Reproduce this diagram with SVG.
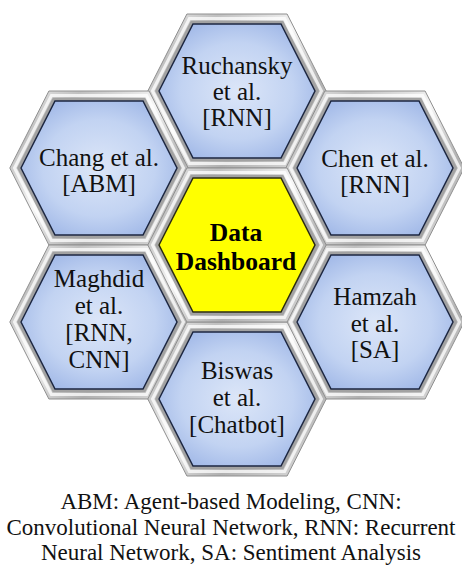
<svg xmlns="http://www.w3.org/2000/svg" xmlns:xlink="http://www.w3.org/1999/xlink" width="462" height="565" viewBox="0 0 462 565">
<style>
.frame{fill:url(#silver);stroke:#8f8f8f;stroke-width:1}
.hl{fill:none;stroke:#ffffff;stroke-width:3;stroke-opacity:0.75}
.bev{fill:none;stroke:#a2a2a2;stroke-width:3}
.blue{fill:url(#blueGrad);stroke:#1c2640;stroke-width:1.5}
.yellow{fill:#ffff00;stroke:#2a2a10;stroke-width:1.5}
.t{font-family:'Liberation Serif',serif;font-size:25px;fill:#111;text-anchor:middle}
.tb{font-family:'Liberation Serif',serif;font-size:25.5px;font-weight:bold;fill:#000;text-anchor:middle}
.cap{font-family:'Liberation Serif',serif;font-size:23px;fill:#111;text-anchor:middle}
</style>
<defs>
<linearGradient id="silver" x1="0" y1="0" x2="1" y2="1">
<stop offset="0" stop-color="#f2f2f2"/>
<stop offset="0.2" stop-color="#c0c0c0"/>
<stop offset="0.45" stop-color="#f7f7f7"/>
<stop offset="0.7" stop-color="#b0b0b0"/>
<stop offset="1" stop-color="#e4e4e4"/>
</linearGradient>
<radialGradient id="blueGrad" cx="0.5" cy="0.5" r="0.6">
<stop offset="0" stop-color="#dce6f8"/>
<stop offset="0.6" stop-color="#c2d3f2"/>
<stop offset="1" stop-color="#9db5e6"/>
</radialGradient>
<polygon id="hexOuter" points="-89.2,0 -50.1,-77 50.1,-77 89.2,0 50.1,77 -50.1,77"/>
<polygon id="hexMid" points="-84.5,0 -47.6,-72.5 47.6,-72.5 84.5,0 47.6,72.5 -47.6,72.5"/>
<polygon id="hexBev" points="-80.3,0 -45.3,-68.7 45.3,-68.7 80.3,0 45.3,68.7 -45.3,68.7"/>
<polygon id="hexInner" points="-78,0 -44,-67 44,-67 78,0 44,67 -44,67"/>
</defs>
<rect width="462" height="565" fill="#ffffff"/>

<g id="node-ruchansky" transform="translate(237,91)">
<use xlink:href="#hexOuter" class="frame"/><use xlink:href="#hexMid" class="hl"/><use xlink:href="#hexBev" class="bev"/><use xlink:href="#hexInner" class="blue"/>
<text class="t" x="0" y="-17">Ruchansky</text><text class="t" x="0" y="9">et al.</text><text class="t" x="0" y="35">[RNN]</text>
</g>
<g id="node-chang" transform="translate(99,168)">
<use xlink:href="#hexOuter" class="frame"/><use xlink:href="#hexMid" class="hl"/><use xlink:href="#hexBev" class="bev"/><use xlink:href="#hexInner" class="blue"/>
<text class="t" x="0" y="-2">Chang et al.</text><text class="t" x="0" y="24">[ABM]</text>
</g>
<g id="node-chen" transform="translate(375,168)">
<use xlink:href="#hexOuter" class="frame"/><use xlink:href="#hexMid" class="hl"/><use xlink:href="#hexBev" class="bev"/><use xlink:href="#hexInner" class="blue"/>
<text class="t" x="0" y="-1">Chen et al.</text><text class="t" x="0" y="25">[RNN]</text>
</g>
<g id="node-maghdid" transform="translate(99,322)">
<use xlink:href="#hexOuter" class="frame"/><use xlink:href="#hexMid" class="hl"/><use xlink:href="#hexBev" class="bev"/><use xlink:href="#hexInner" class="blue"/>
<text class="t" x="0" y="-35">Maghdid</text><text class="t" x="0" y="-8">et al.</text><text class="t" x="0" y="19">[RNN,</text><text class="t" x="0" y="46">CNN]</text>
</g>
<g id="node-hamzah" transform="translate(375,322)">
<use xlink:href="#hexOuter" class="frame"/><use xlink:href="#hexMid" class="hl"/><use xlink:href="#hexBev" class="bev"/><use xlink:href="#hexInner" class="blue"/>
<text class="t" x="0" y="-17">Hamzah</text><text class="t" x="0" y="10">et al.</text><text class="t" x="0" y="36">[SA]</text>
</g>
<g id="node-biswas" transform="translate(237,399)">
<use xlink:href="#hexOuter" class="frame"/><use xlink:href="#hexMid" class="hl"/><use xlink:href="#hexBev" class="bev"/><use xlink:href="#hexInner" class="blue"/>
<text class="t" x="0" y="-20">Biswas</text><text class="t" x="0" y="7">et al.</text><text class="t" x="0" y="34">[Chatbot]</text>
</g>
<g id="node-dashboard" transform="translate(237,245)">
<use xlink:href="#hexOuter" class="frame"/><use xlink:href="#hexMid" class="hl"/><use xlink:href="#hexBev" class="bev"/><use xlink:href="#hexInner" class="yellow"/>
<text class="tb" x="-1" y="-4">Data</text><text class="tb" x="-1" y="25">Dashboard</text>
</g>

<g id="caption">
<text class="cap" x="231" y="509">ABM: Agent-based Modeling, CNN:</text>
<text class="cap" x="231" y="535">Convolutional Neural Network, RNN: Recurrent</text>
<text class="cap" x="231" y="560">Neural Network, SA: Sentiment Analysis</text>
</g>
</svg>
